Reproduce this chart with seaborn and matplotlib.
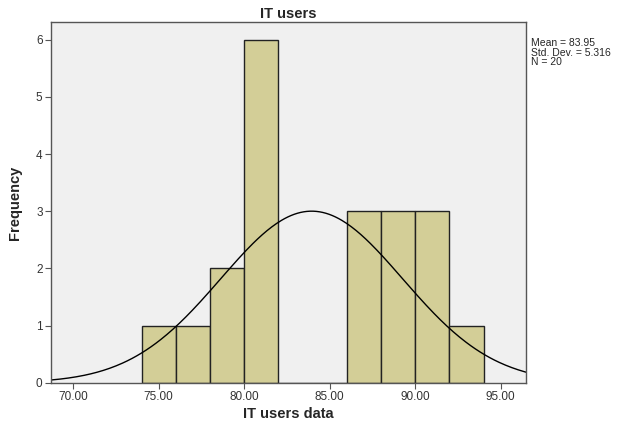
import matplotlib
matplotlib.use("Agg")
import matplotlib.pyplot as plt
import seaborn as sns
import numpy as np

# histogram data (bins of width 2)
bin_edges = [74, 76, 78, 80, 82, 84, 86, 88, 90, 92, 94]
bin_mids = [75, 77, 79, 81, 83, 85, 87, 89, 91, 93]
counts = [1, 1, 2, 6, 0, 0, 3, 3, 3, 1]
mean_val = 83.95
std_val = 5.316
n_val = 20
x_ticks = [70, 75, 80, 85, 90, 95]
y_ticks = [0, 1, 2, 3, 4, 5, 6]

sns.set_style("ticks")
plt.rcParams['font.family'] = ['Liberation Sans', 'DejaVu Sans']

fig = plt.figure(figsize=(6.28, 4.23), dpi=100)
ax = fig.add_axes([0.081, 0.095, 0.757, 0.853])
ax.set_facecolor("#f0f0f0")

sns.histplot(x=bin_mids, weights=counts, bins=bin_edges, ax=ax,
             color="#d3ce97", alpha=1, edgecolor="#222222", linewidth=1.0)

# fitted normal curve scaled to counts
xs = np.linspace(68.7, 96.5, 300)
bw = bin_edges[1] - bin_edges[0]
ys = n_val * bw / (std_val * np.sqrt(2 * np.pi)) * np.exp(-0.5 * ((xs - mean_val) / std_val) ** 2)
ax.plot(xs, ys, color="black", linewidth=1.0)

ax.set_xlim(68.7, 96.5)
ax.set_ylim(0, 6.31)
ax.set_xticks(x_ticks)
ax.set_xticklabels([f"{t:.2f}" for t in x_ticks], fontsize=8.5, color="#333333")
ax.set_yticks(y_ticks)
ax.set_yticklabels([str(t) for t in y_ticks], fontsize=8.5, color="#333333")
ax.tick_params(axis="both", length=4, width=0.8, color="#555555", pad=2)

for s in ax.spines.values():
    s.set_color("#555555")
    s.set_linewidth(1.0)

ax.set_title("IT users", fontsize=10.5, fontweight="bold", pad=3)
ax.set_xlabel("IT users data", fontsize=10.5, fontweight="bold", labelpad=3)
ax.set_ylabel("Frequency", fontsize=10.5, fontweight="bold", labelpad=10)

fig.text(0.845, 0.91, f"Mean = {mean_val:.2f}\nStd. Dev. = {std_val:.3f}\nN = {n_val}",
         fontsize=7.5, va="top", ha="left", linespacing=0.95)

fig.savefig("out.png", dpi=100, facecolor="white")
